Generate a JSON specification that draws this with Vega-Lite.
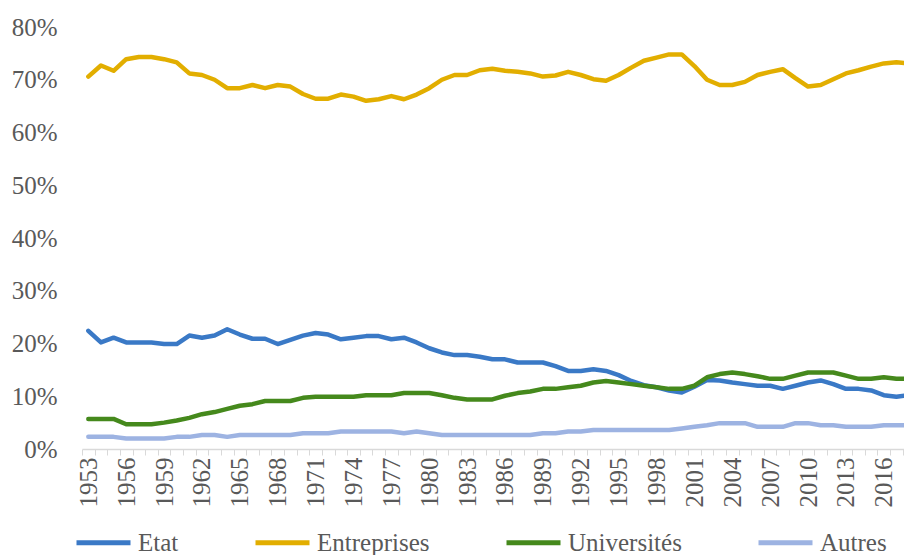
{
  "$schema": "https://vega.github.io/schema/vega-lite/v6.json",
  "autosize": {"type": "none"},
  "padding": {"left": 82, "top": 27, "right": 0, "bottom": 106},
  "width": 822,
  "height": 422,
  "config": {
    "view": {"stroke": null},
    "font": "Liberation Serif"
  },
  "data": {
    "values": [
      {"year":1953,"Etat":22.4,"Entreprises":70.6,"Universités":5.7,"Autres":2.3},
      {"year":1954,"Etat":20.2,"Entreprises":72.7,"Universités":5.7,"Autres":2.3},
      {"year":1955,"Etat":21.1,"Entreprises":71.7,"Universités":5.7,"Autres":2.3},
      {"year":1956,"Etat":20.2,"Entreprises":73.9,"Universités":4.7,"Autres":2.0},
      {"year":1957,"Etat":20.2,"Entreprises":74.3,"Universités":4.7,"Autres":2.0},
      {"year":1958,"Etat":20.2,"Entreprises":74.3,"Universités":4.7,"Autres":2.0},
      {"year":1959,"Etat":19.9,"Entreprises":73.9,"Universités":5.0,"Autres":2.0},
      {"year":1960,"Etat":19.9,"Entreprises":73.3,"Universités":5.4,"Autres":2.3},
      {"year":1961,"Etat":21.5,"Entreprises":71.2,"Universités":5.9,"Autres":2.3},
      {"year":1962,"Etat":21.1,"Entreprises":70.9,"Universités":6.6,"Autres":2.65},
      {"year":1963,"Etat":21.5,"Entreprises":70.0,"Universités":7.0,"Autres":2.65},
      {"year":1964,"Etat":22.7,"Entreprises":68.4,"Universités":7.6,"Autres":2.3},
      {"year":1965,"Etat":21.7,"Entreprises":68.4,"Universités":8.2,"Autres":2.65},
      {"year":1966,"Etat":20.9,"Entreprises":69.0,"Universités":8.5,"Autres":2.65},
      {"year":1967,"Etat":20.9,"Entreprises":68.4,"Universités":9.1,"Autres":2.65},
      {"year":1968,"Etat":19.9,"Entreprises":69.0,"Universités":9.1,"Autres":2.65},
      {"year":1969,"Etat":20.7,"Entreprises":68.7,"Universités":9.1,"Autres":2.65},
      {"year":1970,"Etat":21.5,"Entreprises":67.3,"Universités":9.7,"Autres":3.0},
      {"year":1971,"Etat":22.0,"Entreprises":66.4,"Universités":9.9,"Autres":3.0},
      {"year":1972,"Etat":21.7,"Entreprises":66.4,"Universités":9.9,"Autres":3.0},
      {"year":1973,"Etat":20.8,"Entreprises":67.2,"Universités":9.9,"Autres":3.3},
      {"year":1974,"Etat":21.1,"Entreprises":66.8,"Universités":9.9,"Autres":3.3},
      {"year":1975,"Etat":21.4,"Entreprises":66.0,"Universités":10.2,"Autres":3.3},
      {"year":1976,"Etat":21.4,"Entreprises":66.3,"Universités":10.2,"Autres":3.3},
      {"year":1977,"Etat":20.8,"Entreprises":66.9,"Universités":10.2,"Autres":3.3},
      {"year":1978,"Etat":21.1,"Entreprises":66.3,"Universités":10.6,"Autres":3.0},
      {"year":1979,"Etat":20.2,"Entreprises":67.2,"Universités":10.6,"Autres":3.3},
      {"year":1980,"Etat":19.1,"Entreprises":68.4,"Universités":10.6,"Autres":3.0},
      {"year":1981,"Etat":18.3,"Entreprises":70.0,"Universités":10.2,"Autres":2.65},
      {"year":1982,"Etat":17.8,"Entreprises":70.9,"Universités":9.7,"Autres":2.65},
      {"year":1983,"Etat":17.8,"Entreprises":70.9,"Universités":9.4,"Autres":2.65},
      {"year":1984,"Etat":17.5,"Entreprises":71.8,"Universités":9.4,"Autres":2.65},
      {"year":1985,"Etat":17.0,"Entreprises":72.1,"Universités":9.4,"Autres":2.65},
      {"year":1986,"Etat":17.0,"Entreprises":71.7,"Universités":10.1,"Autres":2.65},
      {"year":1987,"Etat":16.4,"Entreprises":71.5,"Universités":10.6,"Autres":2.65},
      {"year":1988,"Etat":16.4,"Entreprises":71.2,"Universités":10.9,"Autres":2.65},
      {"year":1989,"Etat":16.4,"Entreprises":70.6,"Universités":11.4,"Autres":3.0},
      {"year":1990,"Etat":15.7,"Entreprises":70.8,"Universités":11.4,"Autres":3.0},
      {"year":1991,"Etat":14.8,"Entreprises":71.5,"Universités":11.7,"Autres":3.3},
      {"year":1992,"Etat":14.8,"Entreprises":70.9,"Universités":12.0,"Autres":3.3},
      {"year":1993,"Etat":15.1,"Entreprises":70.1,"Universités":12.6,"Autres":3.6},
      {"year":1994,"Etat":14.8,"Entreprises":69.8,"Universités":12.9,"Autres":3.6},
      {"year":1995,"Etat":14.0,"Entreprises":70.9,"Universités":12.6,"Autres":3.6},
      {"year":1996,"Etat":12.9,"Entreprises":72.3,"Universités":12.3,"Autres":3.6},
      {"year":1997,"Etat":12.1,"Entreprises":73.6,"Universités":12.0,"Autres":3.6},
      {"year":1998,"Etat":11.7,"Entreprises":74.2,"Universités":11.7,"Autres":3.6},
      {"year":1999,"Etat":11.1,"Entreprises":74.8,"Universités":11.4,"Autres":3.6},
      {"year":2000,"Etat":10.7,"Entreprises":74.8,"Universités":11.4,"Autres":3.9},
      {"year":2001,"Etat":11.8,"Entreprises":72.6,"Universités":12.0,"Autres":4.2},
      {"year":2002,"Etat":13.1,"Entreprises":70.0,"Universités":13.6,"Autres":4.5},
      {"year":2003,"Etat":13.0,"Entreprises":69.0,"Universités":14.2,"Autres":4.9},
      {"year":2004,"Etat":12.6,"Entreprises":69.0,"Universités":14.5,"Autres":4.9},
      {"year":2005,"Etat":12.3,"Entreprises":69.6,"Universités":14.2,"Autres":4.9},
      {"year":2006,"Etat":12.0,"Entreprises":70.9,"Universités":13.8,"Autres":4.2},
      {"year":2007,"Etat":12.0,"Entreprises":71.5,"Universités":13.3,"Autres":4.2},
      {"year":2008,"Etat":11.4,"Entreprises":72.0,"Universités":13.3,"Autres":4.2},
      {"year":2009,"Etat":12.0,"Entreprises":70.3,"Universités":13.9,"Autres":4.9},
      {"year":2010,"Etat":12.6,"Entreprises":68.7,"Universités":14.5,"Autres":4.9},
      {"year":2011,"Etat":13.0,"Entreprises":69.0,"Universités":14.5,"Autres":4.5},
      {"year":2012,"Etat":12.3,"Entreprises":70.1,"Universités":14.5,"Autres":4.5},
      {"year":2013,"Etat":11.4,"Entreprises":71.2,"Universités":13.9,"Autres":4.2},
      {"year":2014,"Etat":11.4,"Entreprises":71.8,"Universités":13.3,"Autres":4.2},
      {"year":2015,"Etat":11.1,"Entreprises":72.5,"Universités":13.3,"Autres":4.2},
      {"year":2016,"Etat":10.2,"Entreprises":73.1,"Universités":13.6,"Autres":4.5},
      {"year":2017,"Etat":9.9,"Entreprises":73.3,"Universités":13.3,"Autres":4.5},
      {"year":2018,"Etat":10.2,"Entreprises":73.1,"Universités":13.3,"Autres":4.5}
    ]
  },
  "transform": [
    {"fold": ["Etat", "Entreprises", "Universités", "Autres"], "as": ["secteur", "part"]}
  ],
  "mark": {"type": "line", "clip": true, "strokeWidth": 4.5, "strokeCap": "round", "strokeJoin": "round"},
  "encoding": {
    "x": {
      "field": "year",
      "type": "quantitative",
      "scale": {"domain": [1952.5, 2017.6], "nice": false, "zero": false},
      "axis": {
        "title": null,
        "grid": false,
        "values": [1952.5,1953,1953.5,1954.5,1955.5,1956,1956.5,1957.5,1958.5,1959,1959.5,1960.5,1961.5,1962,1962.5,1963.5,1964.5,1965,1965.5,1966.5,1967.5,1968,1968.5,1969.5,1970.5,1971,1971.5,1972.5,1973.5,1974,1974.5,1975.5,1976.5,1977,1977.5,1978.5,1979.5,1980,1980.5,1981.5,1982.5,1983,1983.5,1984.5,1985.5,1986,1986.5,1987.5,1988.5,1989,1989.5,1990.5,1991.5,1992,1992.5,1993.5,1994.5,1995,1995.5,1996.5,1997.5,1998,1998.5,1999.5,2000.5,2001,2001.5,2002.5,2003.5,2004,2004.5,2005.5,2006.5,2007,2007.5,2008.5,2009.5,2010,2010.5,2011.5,2012.5,2013,2013.5,2014.5,2015.5,2016,2016.5,2017.5],
        "labelExpr": "datum.value % 1 === 0 ? '' + datum.value : ''",
        "tickOpacity": {"condition": {"test": "datum.value % 1 === 0", "value": 0}, "value": 1},
        "labelAngle": 270,
        "labelFont": "Liberation Serif",
        "labelFontSize": 25,
        "labelColor": "#595959",
        "labelPadding": 2,
        "labelOverlap": false,
        "labelFlush": false,
        "labelBound": false,
        "domainColor": "#D9D9D9",
        "domainWidth": 1.5,
        "tickColor": "#D9D9D9",
        "tickSize": 6,
        "tickWidth": 1
      }
    },
    "y": {
      "field": "part",
      "type": "quantitative",
      "scale": {"domain": [0, 80], "nice": false},
      "axis": {
        "title": null,
        "grid": false,
        "domain": false,
        "ticks": false,
        "values": [0, 10, 20, 30, 40, 50, 60, 70, 80],
        "labelExpr": "datum.value + '%'",
        "labelFont": "Liberation Serif",
        "labelFontSize": 25,
        "labelColor": "#595959",
        "labelPadding": 25
      }
    },
    "color": {
      "field": "secteur",
      "type": "nominal",
      "sort": ["Etat", "Entreprises", "Universités", "Autres"],
      "scale": {
        "domain": ["Etat", "Entreprises", "Universités", "Autres"],
        "range": ["#3A79C6", "#E2AE00", "#45891C", "#9DB3E2"]
      },
      "legend": {
        "title": null,
        "orient": "none",
        "direction": "horizontal",
        "legendX": -8,
        "legendY": 486,
        "symbolType": "stroke",
        "symbolSize": 2916,
        "symbolStrokeWidth": 5,
        "labelOffset": 5,
        "columnPadding": 66,
        "labelFont": "Liberation Serif",
        "labelFontSize": 25,
        "labelColor": "#595959",
        "labelLimit": 300
      }
    }
  }
}
